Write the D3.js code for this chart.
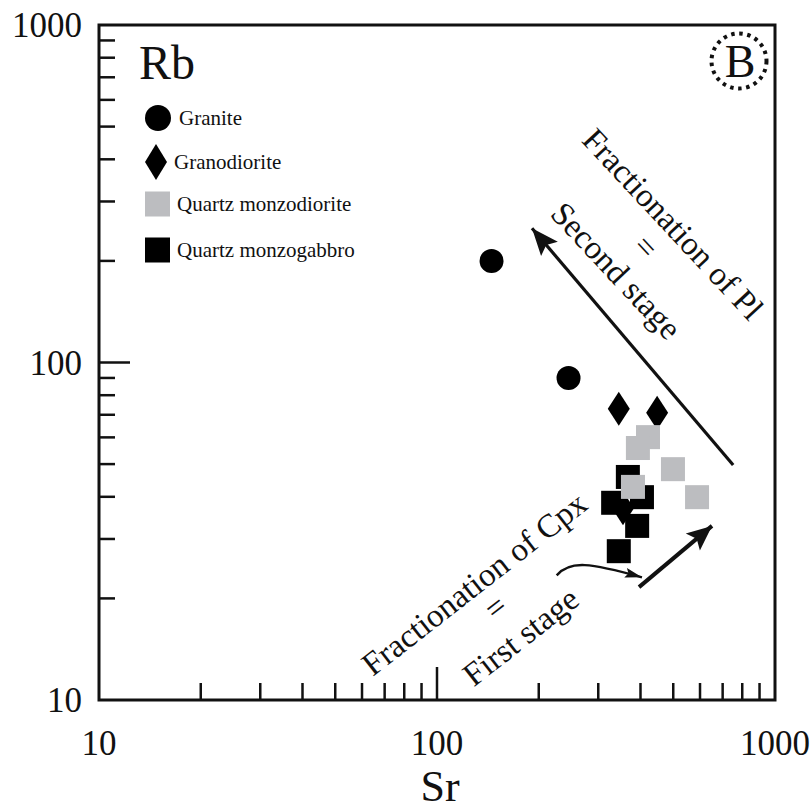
<!DOCTYPE html>
<html>
<head>
<meta charset="utf-8">
<script src="https://cdn.jsdelivr.net/npm/d3@7/dist/d3.min.js"></script>
<style>
html,body{margin:0;padding:0;background:#fff;}
svg text{font-family:"Liberation Serif","Times New Roman",serif;fill:#111;}
</style>
</head>
<body>
<svg id="chart" width="811" height="811"></svg>
<script>
// ---- data (Sr, Rb) ----
const granite = [[145, 200], [245, 90]];
const granodiorite = [[345, 73], [448, 71], [355, 37]];
const quartzMonzogabbro = [[367, 45.8], [404, 39.9], [332, 38.4], [391, 32.8], [345, 27.6]];
const quartzMonzodiorite = [[421, 60.1], [393, 55.8], [499, 48.3], [588, 39.9], [380, 42.8]];

const xTickLabels = ["10", "100", "1000"];
const yTickLabels = ["10", "100", "1000"];
const minorTicks = [20, 30, 40, 50, 60, 70, 80, 90, 200, 300, 400, 500, 600, 700, 800, 900];
const majorTicks = [100];

// annotations (in data space: Sr, Rb)
const arrowPl = [[752, 49.7], [191, 250]];
const arrowCpx = [[396, 21.6], [651, 32.8]];
const curveArrow = [[226, 23.4], [247, 26.0], [284, 25.5], [404, 23.1]];
const textPl = [
  {t: "Fractionation of Pl", p: [499, 257]},
  {t: "=", p: [415, 220]},
  {t: "Second stage", p: [339, 187]}
];
const textCpx = [
  {t: "Fractionation of Cpx", p: [129, 22.1]},
  {t: "=", p: [149, 18.8]},
  {t: "First stage", p: [177, 15.4]}
];
const legendItems = [
  {name: "Granite", shape: "circle"},
  {name: "Granodiorite", shape: "diamond"},
  {name: "Quartz monzodiorite", shape: "graysq"},
  {name: "Quartz monzogabbro", shape: "blacksq"}
];

// ---- layout ----
const L = 99, T = 25, R = 775, B = 700;
const svg = d3.select("#chart");
const x = d3.scaleLog().domain([10, 1000]).range([L, R]);
const y = d3.scaleLog().domain([10, 1000]).range([B, T]);
const GRAY = "#bcbdc0", BLACK = "#000";

// markers
const defs = svg.append("defs");
function marker(id, len, half, notch) {
  defs.append("marker").attr("id", id)
    .attr("markerUnits", "userSpaceOnUse")
    .attr("viewBox", `${-len - 2} ${-half - 2} ${len + 4} ${2 * half + 4}`)
    .attr("refX", 0).attr("refY", 0)
    .attr("markerWidth", len + 4).attr("markerHeight", 2 * half + 4)
    .attr("orient", "auto")
    .append("path")
    .attr("d", `M0,0 L${-len},${-half} L${-len + notch},0 L${-len},${half} Z`)
    .attr("fill", "#111");
}
marker("headBig", 27, 11, 5);
marker("headMid", 25, 11, 5);
marker("headSmall", 17, 5, 3);

// ticks
const tickG = svg.append("g").attr("stroke", "#111").attr("stroke-width", 2.5);
tickG.selectAll(".ym").data(minorTicks).join("line")
  .attr("x1", L).attr("x2", L + 16).attr("y1", d => y(d)).attr("y2", d => y(d));
tickG.selectAll(".yM").data(majorTicks).join("line")
  .attr("x1", L).attr("x2", L + 31).attr("y1", d => y(d)).attr("y2", d => y(d));
tickG.selectAll(".xm").data(minorTicks).join("line")
  .attr("y1", B).attr("y2", B - 17).attr("x1", d => x(d)).attr("x2", d => x(d));
tickG.selectAll(".xM").data(majorTicks).join("line")
  .attr("y1", B).attr("y2", B - 33).attr("x1", d => x(d)).attr("x2", d => x(d));

// frame
svg.append("rect").attr("x", L).attr("y", T).attr("width", R - L).attr("height", B - T)
  .attr("fill", "none").attr("stroke", "#111").attr("stroke-width", 3);

// tick labels
svg.selectAll(".xl").data(xTickLabels).join("text")
  .attr("x", d => x(+d)).attr("y", B + 55).attr("text-anchor", "middle")
  .attr("font-size", 35).text(d => d);
svg.selectAll(".yl").data(yTickLabels).join("text")
  .attr("x", L - 17).attr("y", d => y(+d) + 12).attr("text-anchor", "end")
  .attr("font-size", 35).text(d => d);

// axis titles
svg.append("text").attr("x", x(100) + 3).attr("y", 801).attr("text-anchor", "middle")
  .attr("font-size", 44).text("Sr");
svg.append("text").attr("x", 139).attr("y", 79).attr("font-size", 48).text("Rb");

// B badge
svg.append("circle").attr("cx", 739).attr("cy", 61).attr("r", 27.5)
  .attr("fill", "none").attr("stroke", "#111").attr("stroke-width", 4)
  .attr("stroke-dasharray", "3.5 4.6");
svg.append("text").attr("x", 740).attr("y", 77).attr("text-anchor", "middle")
  .attr("font-size", 46).text("B");

// legend
const lg = svg.append("g");
const legY = [118, 162, 204, 250];
const legTX = [179, 174, 177, 177];
legendItems.forEach((it, i) => {
  const cy = legY[i], cx = 158;
  if (it.shape === "circle") lg.append("circle").attr("cx", cx).attr("cy", cy).attr("r", 13).attr("fill", BLACK);
  else if (it.shape === "diamond") lg.append("path").attr("d", `M${cx - 2},${cy - 18} L${cx + 9},${cy} L${cx - 2},${cy + 18} L${cx - 13},${cy} Z`).attr("fill", BLACK);
  else lg.append("rect").attr("x", cx - 13).attr("y", cy - 12.5).attr("width", 25).attr("height", 25)
    .attr("fill", it.shape === "graysq" ? GRAY : BLACK);
  lg.append("text").attr("x", legTX[i]).attr("y", cy + 7).attr("font-size", 21).text(it.name);
});

// data marks
const S = 24;
svg.append("g").selectAll("rect").data(quartzMonzogabbro).join("rect")
  .attr("x", d => x(d[0]) - S / 2).attr("y", d => y(d[1]) - S / 2)
  .attr("width", S).attr("height", S).attr("fill", BLACK);
svg.append("g").selectAll("path").data(granodiorite).join("path")
  .attr("d", d => { const cx = x(d[0]), cy = y(d[1]); return `M${cx},${cy - 17} L${cx + 11},${cy} L${cx},${cy + 17} L${cx - 11},${cy} Z`; })
  .attr("fill", BLACK);
svg.append("g").selectAll("rect").data(quartzMonzodiorite).join("rect")
  .attr("x", d => x(d[0]) - S / 2).attr("y", d => y(d[1]) - S / 2)
  .attr("width", S).attr("height", S).attr("fill", GRAY);
svg.append("g").selectAll("circle").data(granite).join("circle")
  .attr("cx", d => x(d[0])).attr("cy", d => y(d[1])).attr("r", 12).attr("fill", BLACK);

// arrows
const line = d3.line().x(d => x(d[0])).y(d => y(d[1]));
svg.append("path").attr("d", line(arrowPl)).attr("stroke", "#111").attr("stroke-width", 3.2)
  .attr("fill", "none").attr("marker-end", "url(#headBig)");
svg.append("path").attr("d", line(arrowCpx)).attr("stroke", "#111").attr("stroke-width", 4)
  .attr("fill", "none").attr("marker-end", "url(#headMid)");
const c = curveArrow.map(d => [x(d[0]), y(d[1])]);
svg.append("path").attr("d", `M${c[0]} C${c[1]} ${c[2]} ${c[3]}`).attr("stroke", "#111").attr("stroke-width", 2.4)
  .attr("fill", "none").attr("marker-end", "url(#headSmall)");

// rotated annotation text
function rotText(items, angle) {
  items.forEach(it => {
    svg.append("text")
      .attr("transform", `translate(${x(it.p[0])},${y(it.p[1])}) rotate(${angle})`)
      .attr("text-anchor", "middle").attr("dominant-baseline", "central")
      .attr("font-size", 33).text(it.t);
  });
}
rotText(textPl, 47);
rotText(textCpx, -38);
</script>
</body>
</html>
